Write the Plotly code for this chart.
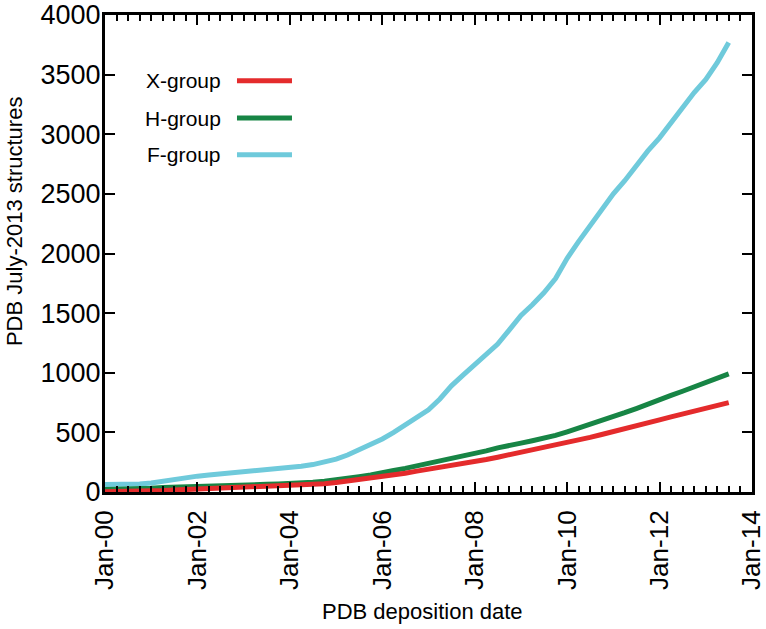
import plotly.graph_objects as go

quarters = [f"{y}-{m:02d}-01" for y in range(2000, 2014) for m in (1, 4, 7, 10)][:55]

f_group = [62, 62, 63, 68, 76, 92, 108, 120, 133, 142, 150, 160, 168, 176, 185, 195,
           205, 216, 230, 250, 275, 310, 352, 398, 445, 500, 560, 620, 690, 780, 890, 980,
           1070, 1150, 1240, 1360, 1480, 1570, 1670, 1790, 1960, 2100, 2230, 2370,
           2500, 2610, 2740, 2860, 2970, 3100, 3230, 3350, 3460, 3600, 3770]
h_group = [22, 23, 25, 28, 32, 38, 42, 46, 50, 52, 54, 56, 58, 61, 64, 67,
           70, 76, 82, 90, 100, 115, 128, 142, 165, 180, 198, 218, 238, 260, 285, 305,
           325, 345, 370, 395, 410, 430, 450, 475, 505, 535, 565, 595,
           630, 665, 700, 740, 775, 810, 845, 880, 920, 955, 990]
x_group = [3, 3, 4, 5, 8, 12, 16, 20, 24, 27, 30, 33, 36, 39, 42, 45,
           48, 55, 62, 70, 80, 92, 105, 118, 128, 142, 158, 175, 190, 205, 222, 240,
           255, 272, 292, 312, 332, 355, 378, 398, 415, 435, 458, 482, 505, 530, 555, 580,
           605, 630, 655, 680, 705, 728, 750]

series = [("X-group", x_group, "#E42B2C"),
          ("H-group", h_group, "#178545"),
          ("F-group", f_group, "#6FCADB")]

fig = go.Figure()
for name, vals, col in series[::-1]:
    fig.add_trace(go.Scatter(x=quarters, y=vals, mode="lines", name=name,
                             line=dict(color=col, width=5), showlegend=False))

# legend drawn manually (label left, line sample right)
legend_y = [0.862, 0.784, 0.707]
for (name, vals, col), ly in zip(series, legend_y):
    fig.add_annotation(x=0.182, y=ly, xref="paper", yref="paper", text=name,
                       showarrow=False, xanchor="right", yanchor="middle",
                       font=dict(size=21, color="black"))
    fig.add_shape(type="line", xref="paper", yref="paper", x0=0.204, x1=0.289,
                  y0=ly, y1=ly, line=dict(color=col, width=5))

# axis titles
fig.add_annotation(x=0.49, y=-0.2495, xref="paper", yref="paper",
                   text="PDB deposition date", showarrow=False,
                   xanchor="center", yanchor="middle", font=dict(size=22, color="black"))
fig.add_annotation(x=-0.1406, y=0.566, xref="paper", yref="paper",
                   text="PDB July-2013 structures", showarrow=False, textangle=-90,
                   xanchor="center", yanchor="middle", font=dict(size=22, color="black"))

fig.update_layout(
    width=766, height=629,
    margin=dict(l=105, r=14, t=15, b=137),
    paper_bgcolor="white", plot_bgcolor="white",
    font=dict(family="Liberation Sans, Arial, sans-serif", color="black"),
)
fig.update_xaxes(type="date", range=["2000-01-01", "2014-01-01"], automargin=False,
                 dtick="M24", tick0="2000-01-01", tickformat="%b-%y", tickangle=-90,
                 ticks="inside", ticklen=10, tickwidth=2, tickcolor="black",
                 minor=dict(dtick="M3", ticks="inside", ticklen=6, tickwidth=1.5, tickcolor="black"),
                 showline=True, linecolor="black", linewidth=3, mirror="ticks",
                 showgrid=False, zeroline=False, ticklabelstandoff=5,
                 ticklabeloverflow="allow",
                 tickfont=dict(size=26))
fig.update_yaxes(range=[0, 4000], dtick=500, automargin=False,
                 ticks="inside", ticklen=10, tickwidth=2, tickcolor="black",
                 showline=True, linecolor="black", linewidth=3, mirror="ticks",
                 showgrid=False, zeroline=False, ticklabelstandoff=-4,
                 ticklabeloverflow="allow",
                 tickfont=dict(size=27))

fig.write_html("out.html", config={"displayModeBar": False},
               post_script="document.body.style.margin='0px';document.body.style.padding='0px';")
